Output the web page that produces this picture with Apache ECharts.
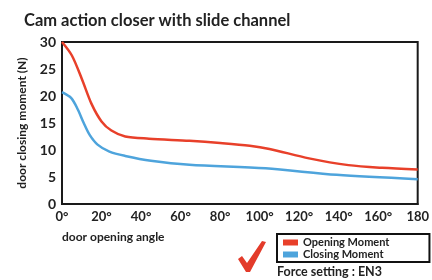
<!DOCTYPE html>
<html>
<head>
<meta charset="utf-8">
<script src="https://cdn.jsdelivr.net/npm/echarts@6/dist/echarts.min.js"></script>
<style>
  html, body { margin: 0; padding: 0; background: #fff; }
  #chart { width: 432px; height: 280px; }
</style>
</head>
<body>
<div id="chart"></div>
<script>
// 数据：开门角度 (°) 与关门力矩 (N)
const openingAngles = [0, 5, 10, 15, 20, 25, 32, 44, 64.5, 80, 95, 105, 125, 145, 162, 180];
const openingValues = [30, 27.5, 23.2, 18.5, 15.3, 13.6, 12.5, 12.1, 11.7, 11.3, 10.8, 10.2, 8.45, 7.2, 6.7, 6.4];
const closingAngles = [0, 4.7, 8, 11, 14, 18, 24, 32, 45, 64.5, 103, 139, 180];
const closingValues = [20.7, 19.6, 17.5, 15, 12.8, 11, 9.7, 8.9, 8.0, 7.25, 6.6, 5.4, 4.6];
const xTicks = [0, 20, 40, 60, 80, 100, 120, 140, 160, 180];
const yTicks = [0, 5, 10, 15, 20, 25, 30];
const seriesNames = ['Opening Moment', 'Closing Moment'];

const font = 'Lato';
const chart = echarts.init(document.getElementById('chart'));

const pairs = (xs, ys) => xs.map((x, i) => [x, ys[i]]);

const option = {
  animation: false,
  textStyle: { fontFamily: font },
  title: {
    text: 'Cam action closer with slide channel',
    left: 19,
    top: 7,
    textStyle: { fontFamily: font, fontSize: 16.5, fontWeight: 'bold', color: '#222' }
  },
  grid: {
    left: 62,
    right: 13,
    top: 42,
    bottom: 76,
    show: true,
    borderColor: '#1a1a1a',
    borderWidth: 2
  },
  legend: {
    data: seriesNames,
    orient: 'vertical',
    left: 277,
    top: 234,
    width: 148,
    padding: [3, 40, 2, 6],
    itemGap: 1,
    icon: 'rect',
    itemWidth: 15,
    itemHeight: 6,
    borderColor: '#111',
    borderWidth: 2,
    textStyle: { fontFamily: font, fontSize: 11, fontWeight: 'bold', color: '#222', padding: [0, 0, 0, 0] }
  },
  xAxis: {
    type: 'value',
    min: 0,
    max: 180,
    interval: 20,
    name: 'door opening angle',
    nameLocation: 'start',
    nameGap: 0,
    nameTextStyle: {
      fontFamily: font, fontSize: 12, fontWeight: 'bold', color: '#222',
      align: 'left', verticalAlign: 'top', padding: [27, 0, 0, 0]
    },
    axisLine: { show: true, lineStyle: { color: '#1a1a1a', width: 2 } },
    axisTick: { show: false },
    splitLine: { show: false },
    axisLabel: {
      margin: 6,
      fontFamily: font, fontSize: 13, fontWeight: 'bold', color: '#222',
      formatter: v => (v === 180 ? '180' : v + '°')
    }
  },
  yAxis: {
    type: 'value',
    min: 0,
    max: 30,
    interval: 5,
    name: 'door closing moment (N)',
    nameLocation: 'middle',
    nameGap: 34,
    nameTextStyle: { fontFamily: font, fontSize: 12, fontWeight: 'bold', color: '#222' },
    axisLine: { show: true, lineStyle: { color: '#1a1a1a', width: 2 } },
    axisTick: { show: false },
    splitLine: { show: false },
    axisLabel: {
      margin: 6,
      fontFamily: font, fontSize: 14, fontWeight: 'bold', color: '#222'
    }
  },
  series: [
    {
      name: seriesNames[0],
      type: 'line',
      smooth: 0.3,
      symbol: 'none',
      color: '#e8402a',
      lineStyle: { width: 2.5, color: '#e8402a' },
      data: pairs(openingAngles, openingValues)
    },
    {
      name: seriesNames[1],
      type: 'line',
      smooth: 0.3,
      symbol: 'none',
      color: '#4ea4dc',
      lineStyle: { width: 2.5, color: '#4ea4dc' },
      data: pairs(closingAngles, closingValues)
    }
  ],
  graphic: [
    {
      // 红色勾号
      type: 'polygon',
      shape: { points: [[238, 259], [242, 256], [247, 263], [262, 241], [266, 242], [250, 272], [246, 272]] },
      style: { fill: '#e33b2a' }
    },
    {
      type: 'text',
      left: 277,
      top: 265,
      style: { text: 'Force setting : EN3', fontFamily: font, fontSize: 12.5, fontWeight: 'bold', fill: '#222' }
    }
  ]
};

chart.setOption(option);
</script>
</body>
</html>
